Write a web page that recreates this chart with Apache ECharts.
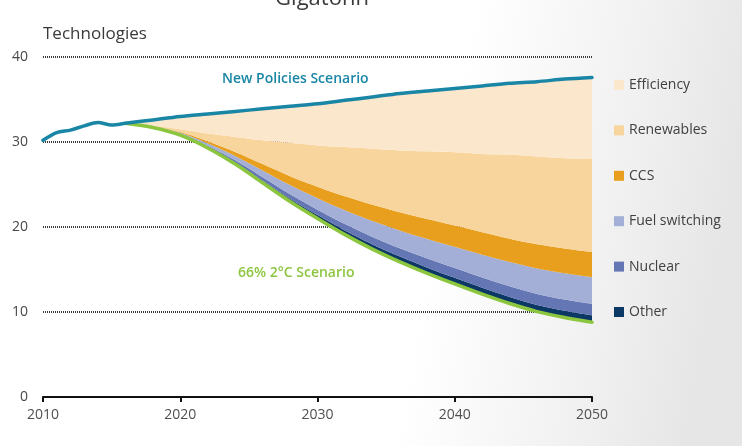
<!DOCTYPE html>
<html>
<head>
<meta charset="utf-8">
<script src="https://cdn.jsdelivr.net/npm/echarts@6/dist/echarts.min.js"></script>
<style>
html,body{margin:0;padding:0;}
#c{width:742px;height:446px;}
</style>
</head>
<body>
<div id="c"></div>
<script>
// ---- data ----
var years = [];
for (var y = 2010; y <= 2050; y++) years.push(String(y));

var npsYears = [2010,2011,2012,2013,2014,2015,2016,2018,2020,2022,2024,2026,2028,2030,2032,2034,2036,2038,2040,2042,2044,2046,2048,2050];
var npsValues = [30.2,31.1,31.4,31.9,32.3,32.0,32.2,32.6,33.0,33.3,33.6,33.9,34.2,34.5,34.9,35.3,35.7,36.0,36.3,36.6,36.9,37.1,37.4,37.6];

var techYears = [2016,2018,2020,2022,2024,2026,2028,2030,2032,2034,2036,2038,2040,2042,2044,2046,2048,2050];
var s2dsValues = [32.2,31.7,30.8,29.3,27.4,25.2,23.0,21.0,19.1,17.4,15.9,14.55,13.3,12.1,11.0,10.05,9.35,8.8];
var otherValues = [0,0.02,0.05,0.1,0.17,0.25,0.33,0.4,0.48,0.55,0.62,0.67,0.72,0.75,0.77,0.78,0.79,0.8];
var nuclearValues = [0,0.03,0.08,0.15,0.27,0.4,0.52,0.64,0.76,0.88,0.98,1.07,1.15,1.2,1.25,1.29,1.32,1.35];
var fuelValues = [0,0.05,0.15,0.3,0.52,0.8,1.08,1.35,1.62,1.88,2.1,2.3,2.5,2.68,2.85,3.0,3.1,3.15];
var ccsValues = [0,0.03,0.1,0.25,0.47,0.75,1.05,1.35,1.65,1.92,2.15,2.35,2.5,2.65,2.75,2.85,2.92,2.95];
var renewValues = [0,0.07,0.32,0.9,1.77,2.8,3.92,4.86,5.79,6.57,7.25,7.96,8.63,9.22,9.88,10.33,10.62,10.95];
var effValues = [0,0.7,1.5,2.3,3.0,3.7,4.3,4.9,5.5,6.1,6.7,7.1,7.5,8.0,8.4,8.8,9.3,9.6];

var xTicks = ['2010','2020','2030','2040','2050'];
var yTicks = [0,10,20,30,40];

function pairs(xs, vs){ return xs.map(function(x,i){ return [String(x), vs[i]]; }); }

var FONT = '"Open Sans", "Noto Sans", sans-serif';
var colors = {
  eff: '#fbe7cb', ren: '#f8d59d', ccs: '#e89f1d', fuel: '#a3afd6',
  nuc: '#6576b4', oth: '#0c3865', nps: '#1a86a6', s2ds: '#8cc63f'
};

function band(name, vals, color){
  return {
    name: name, type: 'line', stack: 'tech', data: pairs(techYears, vals),
    smooth: 0.3, symbol: 'none', showSymbol: false,
    lineStyle: {width: 0},
    areaStyle: {color: color, opacity: 1},
    itemStyle: {color: color},
    silent: true, z: 2
  };
}

var chart = echarts.init(document.getElementById('c'), null, {renderer: 'canvas'});
chart.setOption({
  animation: false,
  backgroundColor: {
    type: 'linear', x: 0, y: 0, x2: 1, y2: 0.3,
    colorStops: [
      {offset: 0, color: '#ffffff'},
      {offset: 0.62, color: '#ffffff'},
      {offset: 0.85, color: '#f1f1f1'},
      {offset: 1, color: '#e6e6e6'}
    ]
  },
  grid: {left: 43, right: 150, top: 57, bottom: 49, containLabel: false},
  xAxis: {
    type: 'category', data: years, boundaryGap: false,
    axisLine: {show: true, lineStyle: {color: '#111', width: 2}},
    axisTick: {show: true, length: 5, interval: function(i, v){ return xTicks.indexOf(v) >= 0; }, lineStyle: {color: '#111', width: 2}},
    axisLabel: {
      color: '#505050', fontFamily: FONT, fontSize: 14, margin: 11,
      interval: function(i, v){ return xTicks.indexOf(v) >= 0; }
    },
    splitLine: {show: false}
  },
  yAxis: {
    type: 'value', min: 0, max: 40, interval: 10,
    axisLine: {show: false}, axisTick: {show: false},
    axisLabel: {
      color: '#484848', fontFamily: FONT, fontSize: 14, margin: 15,
      formatter: function(v){ return yTicks.indexOf(v) >= 0 ? String(v) : ''; }
    },
    splitLine: {show: true, lineStyle: {color: '#3a3a3a', width: 2, type: [1, 1]}}
  },
  legend: {
    orient: 'vertical', left: 609, top: 72,
    itemWidth: 10, itemHeight: 10, itemGap: 29.4,
    icon: 'rect',
    textStyle: {color: '#404040', fontFamily: FONT, fontSize: 14, lineHeight: 16},
    data: ['Efficiency', 'Renewables', 'CCS', 'Fuel switching', 'Nuclear', 'Other'],
    selectedMode: false
  },
  series: [
    {
      name: 'base', type: 'line', stack: 'tech', data: pairs(techYears, s2dsValues),
      smooth: 0.3, symbol: 'none', lineStyle: {width: 0}, silent: true, z: 2
    },
    band('Other', otherValues, colors.oth),
    band('Nuclear', nuclearValues, colors.nuc),
    band('Fuel switching', fuelValues, colors.fuel),
    band('CCS', ccsValues, colors.ccs),
    band('Renewables', renewValues, colors.ren),
    band('Efficiency', effValues, colors.eff),
    {
      name: '66% 2°C Scenario', type: 'line', data: pairs(techYears, s2dsValues),
      smooth: 0.3, symbol: 'none', lineStyle: {color: colors.s2ds, width: 3.5, cap: 'round'},
      silent: true, z: 5
    },
    {
      name: 'New Policies Scenario', type: 'line', data: pairs(npsYears, npsValues),
      smooth: 0.3, symbol: 'none', lineStyle: {color: colors.nps, width: 3.5, cap: 'round'},
      silent: true, z: 6
    }
  ],
  graphic: [
    {type: 'text', left: 43, top: 26, style: {text: 'Technologies', fill: '#3a3a3a', font: '17px ' + FONT}},
    {type: 'text', x: 322, y: 10, style: {text: 'Gigatonn', fill: '#3a3a3a', font: '22px ' + FONT, textAlign: 'center', textVerticalAlign: 'bottom'}},
    {type: 'text', x: 222, y: 79, style: {text: 'New Policies Scenario', fill: colors.nps, font: '600 14px ' + FONT, textVerticalAlign: 'middle'}},
    {type: 'text', x: 238, y: 273, style: {text: '66% 2°C Scenario', fill: colors.s2ds, font: '600 14px ' + FONT, textVerticalAlign: 'middle'}}
  ]
});
</script>
</body>
</html>
